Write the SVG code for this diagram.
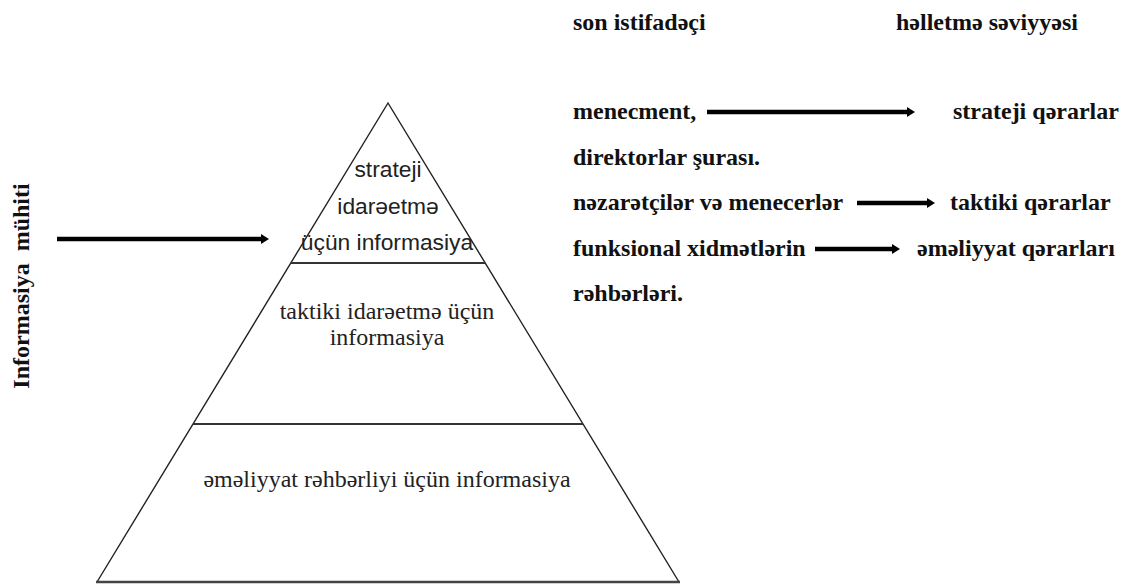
<svg xmlns="http://www.w3.org/2000/svg" width="1131" height="586" viewBox="0 0 1131 586">
  <style>
    .edge { fill: none; stroke: #222; stroke-width: 1.4; }
    .tier { stroke: #333; stroke-width: 2; }
    .base { stroke: #444; stroke-width: 2.6; }
    .sans { font-family: "Liberation Sans", Arial, sans-serif; font-size: 22.8px; fill: #222; text-anchor: middle; }
    .serif { font-family: "Liberation Serif", "DejaVu Serif", serif; font-size: 24px; fill: #222; text-anchor: middle; }
    .bold { font-family: "Liberation Serif", "DejaVu Serif", serif; font-size: 24px; font-weight: bold; fill: #111; }
    .arrow { stroke: #000; stroke-width: 4.5; fill: none; }
  </style>
  <defs>
    <marker id="head" viewBox="0 0 8 10" markerWidth="8" markerHeight="10" refX="2" refY="5" markerUnits="userSpaceOnUse" orient="auto">
      <path d="M0,0 L8,5 L0,10 Z" fill="#000"/>
    </marker>
  </defs>
  <rect width="1131" height="586" fill="#fff"/>

  <!-- pyramid outline -->
  <g id="pyramid">
    <polyline class="edge" points="97,582 388,103 679,582"/>
    <line class="tier" x1="290.8" y1="263" x2="485.2" y2="263"/>
    <line class="tier" x1="193" y1="424" x2="583" y2="424"/>
    <line class="base" x1="96" y1="582" x2="680" y2="582"/>
  </g>

  <g id="tier-strategic">
    <text class="sans" x="388" y="177">strateji</text>
    <text class="sans" x="388" y="214">idarəetmə</text>
    <text class="sans" x="387" y="250">üçün informasiya</text>
  </g>

  <g id="tier-tactical">
    <text class="serif" x="387" y="319">taktiki idarəetmə üçün</text>
    <text class="serif" x="387" y="345">informasiya</text>
  </g>

  <g id="tier-operational">
    <text class="serif" x="387" y="487">əməliyyat rəhbərliyi üçün informasiya</text>
  </g>

  <g id="environment">
    <text class="bold" transform="translate(29,286) rotate(-90)" text-anchor="middle">Informasiya <tspan dx="6">mühiti</tspan></text>
  </g>

  <g id="headers">
    <text class="bold" x="573" y="30">son istifadəçi</text>
    <text class="bold" x="896" y="30">həlletmə səviyyəsi</text>
  </g>

  <g id="row-strategic">
    <text class="bold" x="573" y="119">menecment,</text>
    <text class="bold" x="573" y="165">direktorlar şurası.</text>
    <text class="bold" x="953" y="119">strateji qərarlar</text>
  </g>

  <g id="row-tactical">
    <text class="bold" x="573" y="210">nəzarətçilər və menecerlər</text>
    <text class="bold" x="950" y="210">taktiki qərarlar</text>
  </g>

  <g id="row-operational">
    <text class="bold" x="573" y="256">funksional xidmətlərin</text>
    <text class="bold" x="573" y="301">rəhbərləri.</text>
    <text class="bold" x="917" y="256">əməliyyat qərarları</text>
  </g>

  <g id="connectors">
    <line class="arrow" x1="57" y1="239" x2="263" y2="239" marker-end="url(#head)"/>
    <line class="arrow" x1="707" y1="112" x2="909" y2="112" marker-end="url(#head)"/>
    <line class="arrow" x1="857" y1="203" x2="929" y2="203" marker-end="url(#head)"/>
    <line class="arrow" x1="815" y1="249" x2="894" y2="249" marker-end="url(#head)"/>
  </g>
</svg>
